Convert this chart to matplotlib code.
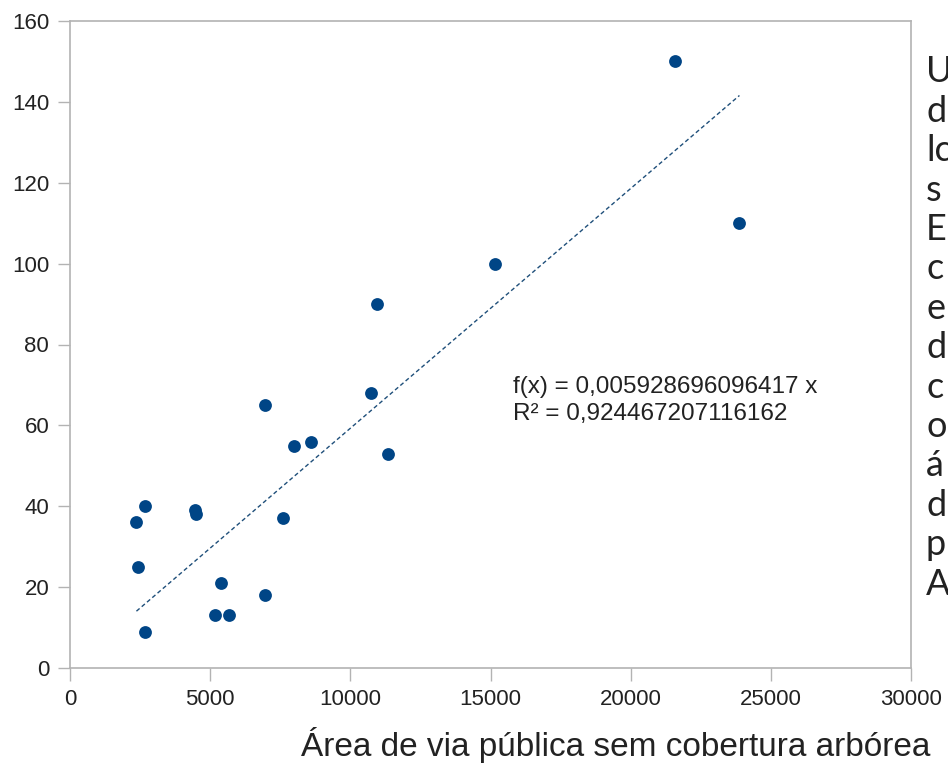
import numpy as np
import matplotlib.pyplot as plt

# data
area_sem_arvores = [2370, 2440, 2690, 2690, 4460, 4480, 5170, 5400, 5670, 6950,
                    6970, 7590, 7990, 8600, 10740, 10950, 11330, 15170, 21570, 23880]
valores = [36, 25, 40, 9, 39, 38, 13, 21, 13, 65,
           18, 37, 55, 56, 68, 90, 53, 100, 150, 110]

slope = 0.005928696096417
r2 = 0.924467207116162

x_ticks = [0, 5000, 10000, 15000, 20000, 25000, 30000]
y_ticks = [0, 20, 40, 60, 80, 100, 120, 140, 160]

# cut-off paragraph at the right edge of the screenshot
side_text = ["U", "d", "lc", "s", "E", "c", "e", "d", "c", "o", "á", "d", "p", "A"]

blue = "#004586"
grey = "#b3b3b3"

fig = plt.figure(figsize=(9.48, 7.69), dpi=100)
ax = fig.add_axes([70 / 948, 1 - 668 / 769, 841 / 948, 647 / 769])

ax.scatter(area_sem_arvores, valores, s=85, color=blue, zorder=3, linewidths=0)

xs = np.array([min(area_sem_arvores), max(area_sem_arvores)])
ax.plot(xs, slope * xs, color="#1f4f7a", lw=1.0, ls=(0, (3, 2)), zorder=2)

fmt = lambda v: f"{v:.15f}".rstrip("0").replace(".", ",")
ax.text(0.527, 0.414, f"f(x) = {fmt(slope)} x\nR² = {fmt(r2)}",
        transform=ax.transAxes, ha="left", va="center", fontsize=17.5,
        family="Liberation Sans", color="#222222", linespacing=1.3)

ax.set_xlim(0, 30000)
ax.set_ylim(0, 160)
ax.set_xticks(x_ticks)
ax.set_yticks(y_ticks)
ax.tick_params(direction="out", length=9, width=1, color=grey,
               labelsize=16, labelcolor="#222222", pad=6)
for lab in ax.get_xticklabels() + ax.get_yticklabels():
    lab.set_family("Liberation Sans")
for sp in ax.spines.values():
    sp.set_color(grey)
    sp.set_linewidth(1.2)

fig.text(616 / 948, 1 - 745 / 769, "Área de via pública sem cobertura arbórea",
         ha="center", va="center", fontsize=24, family="Liberation Sans",
         color="#222222")

for i, s in enumerate(side_text):
    fig.text(926 / 948, 1 - (72 + 39.4 * i) / 769, s, ha="left", va="center",
             fontsize=26, family="Lato", color="#222222")

fig.savefig("out.png", dpi=100)
